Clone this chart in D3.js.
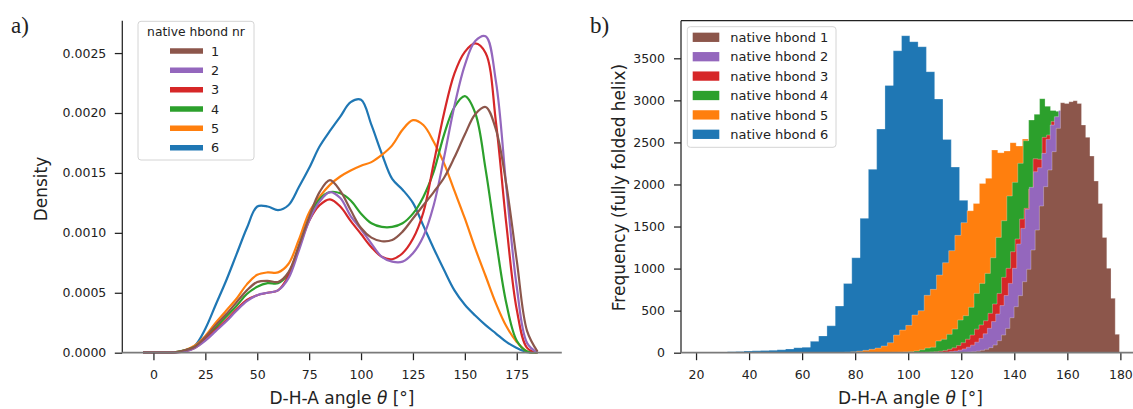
<!DOCTYPE html>
<html>
<head>
<meta charset="utf-8">
<script src="https://cdn.jsdelivr.net/npm/d3@7"></script>
<style>
body { margin: 0; background: #fff; }
text { font-family: "DejaVu Sans", sans-serif; fill: #222; }
</style>
</head>
<body>
<svg id="chart" width="1133" height="409"></svg>
<script>
// ---- data: kde curves (panel a) ----
var angleGrid = [-5, 0, 5, 10, 15, 20, 25, 30, 35, 40, 45, 50, 55, 60, 65, 70, 75, 80, 85, 90,
    95, 100, 105, 110, 115, 120, 125, 130, 135, 140, 145, 150, 155, 160, 165, 170, 175, 180, 185];

var kde1 = [0, 0, 0, 0.000003, 0.00002, 0.00005, 0.00013, 0.00023, 0.00032, 0.00042, 0.00052, 0.00059, 0.0006, 0.00059, 0.00067, 0.00089, 0.00113, 0.00134, 0.00144, 0.00135,
    0.00119, 0.00104, 0.00096, 0.00093, 0.00094, 0.00101, 0.00112, 0.00123, 0.00134, 0.00146, 0.00163, 0.00182, 0.00199, 0.00205, 0.00186, 0.0014, 0.00077, 0.00018, 0.00001];
var kde2 = [0, 0, 0, 0.000002, 0.00001, 0.00004, 0.0001, 0.00018, 0.00026, 0.00035, 0.00043, 0.00048, 0.0005, 0.00052, 0.00062, 0.00085, 0.0011, 0.00126, 0.00134, 0.00129,
    0.00114, 0.00103, 0.00091, 0.0008, 0.00076, 0.00076, 0.00083, 0.00097, 0.00123, 0.00163, 0.00206, 0.0024, 0.0026, 0.00264, 0.00226, 0.00138, 0.00055, 0.00008, 0];
var kde3 = [0, 0, 0, 0.000002, 0.00001, 0.00004, 0.00011, 0.00019, 0.00027, 0.00036, 0.00044, 0.00048, 0.0005, 0.00052, 0.00064, 0.00087, 0.0011, 0.00123, 0.00128, 0.00122,
    0.0011, 0.00099, 0.00088, 0.0008, 0.00078, 0.00083, 0.00095, 0.00117, 0.00158, 0.002, 0.00233, 0.00251, 0.00258, 0.0025, 0.00192, 0.00107, 0.00036, 0.00004, 0];
var kde4 = [0, 0, 0, 0.000003, 0.00002, 0.00005, 0.00012, 0.00021, 0.0003, 0.00039, 0.00049, 0.00055, 0.00058, 0.00058, 0.00066, 0.00088, 0.00112, 0.00128, 0.00134, 0.00133,
    0.00127, 0.00116, 0.00108, 0.00105, 0.00105, 0.00108, 0.00116, 0.0013, 0.00151, 0.00182, 0.00205, 0.00214, 0.002, 0.00153, 0.00094, 0.00041, 0.0001, 0.00001, 0];
var kde5 = [0, 0, 0, 0.000003, 0.00002, 0.00006, 0.00014, 0.00025, 0.00035, 0.00045, 0.00057, 0.00065, 0.00067, 0.00067, 0.00074, 0.00094, 0.00117, 0.0013, 0.0014, 0.00147,
    0.00152, 0.00156, 0.00159, 0.00165, 0.00173, 0.00186, 0.00194, 0.0019, 0.00176, 0.00158, 0.00135, 0.00112, 0.00087, 0.00064, 0.00041, 0.00022, 0.00009, 0.00001, 0];
var kde6 = [0, 0, 0, 0.000002, 0.000015, 0.00006, 0.0002, 0.0004, 0.0006, 0.00082, 0.00104, 0.00122, 0.00122, 0.00119, 0.00123, 0.00138, 0.00154, 0.00172, 0.00185, 0.00197,
    0.00209, 0.00211, 0.0019, 0.00166, 0.00145, 0.00136, 0.00125, 0.00106, 0.00087, 0.00069, 0.00052, 0.0004, 0.00031, 0.00023, 0.00016, 0.00009, 0.00004, 0.000005, 0];

// ---- data: histograms (panel b), 50 bins each ----
var histStart = [100.2, 101.4, 94.4, 75.38, 64.39, 22.46];
var histWidth = [1.589, 1.58, 1.7, 2.06, 2.313, 3.126];

var hist1 = [0, 0, 0, 0, 0, 0, 0, 0, 1, 1, 1, 2, 3, 5, 8, 12, 18, 28, 40, 60, 91, 143, 210, 289, 416,
    547, 678, 844, 991, 1221, 1458, 1744, 1974, 2172, 2390, 2667, 2972, 2964, 2984, 2996, 2964, 2707, 2560, 2338, 2041, 1775, 1371, 1003, 646, 218];
var hist2 = [0, 0, 0, 0, 1, 2, 3, 5, 8, 13, 20, 30, 45, 65, 90, 125, 170, 225, 290, 370, 460, 560, 680, 824, 1003,
    1292, 1478, 1704, 1966, 2152, 2200, 2370, 2536, 2707, 2806, 2880, 2900, 2850, 2700, 2500, 2250, 1900, 1550, 1200, 850, 550, 300, 130, 40, 8];
var hist3 = [0, 0, 0, 1, 1, 2, 3, 5, 8, 12, 18, 27, 40, 58, 85, 119, 160, 210, 280, 330, 380, 468, 579, 705, 896,
    1003, 1201, 1351, 1589, 1716, 1942, 2306, 2300, 2560, 2588, 2750, 2800, 2700, 2500, 2200, 1850, 1450, 1050, 700, 420, 220, 100, 35, 10, 2];
var hist4 = [0, 0, 0, 0, 1, 1, 2, 2, 3, 4, 5, 8, 12, 20, 35, 55, 65, 139, 159, 218, 281, 388, 440, 539, 705,
    824, 943, 1129, 1371, 1569, 1863, 2025, 2251, 2520, 2766, 2834, 3020, 2930, 2880, 2870, 2700, 2400, 2000, 1500, 1000, 600, 280, 100, 25, 5];
var hist5 = [0, 0, 1, 1, 2, 5, 10, 18, 28, 40, 55, 80, 119, 210, 269, 325, 448, 499, 682, 753, 923, 1070, 1213, 1395, 1546,
    1688, 1775, 2013, 2073, 2410, 2378, 2398, 2497, 2457, 2540, 2450, 2300, 2100, 1850, 1550, 1250, 950, 650, 400, 230, 110, 45, 15, 5, 1];
var hist6 = [1, 0, 2, 10, 15, 20, 22, 25, 30, 35, 45, 60, 65, 135, 200, 320, 555, 824, 1129, 1597, 2180, 2659, 3178, 3590, 3769,
    3698, 3638, 3341, 3016, 2536, 2207, 1811, 1450, 1150, 880, 660, 480, 340, 230, 150, 95, 60, 35, 20, 12, 6, 3, 2, 1, 0];

var hbondLabels = ["1", "2", "3", "4", "5", "6"];
var kdeXTicks = [0, 25, 50, 75, 100, 125, 150, 175];
var kdeYTicks = [0, 0.0005, 0.001, 0.0015, 0.002, 0.0025];
var histXTicks = [20, 40, 60, 80, 100, 120, 140, 160, 180];
var histYTicks = [0, 500, 1000, 1500, 2000, 2500, 3000, 3500];

var hbondColors = ["#8c564b", "#9467bd", "#d62728", "#2ca02c", "#ff7f0e", "#1f77b4"];

var kdeSeries = [kde1, kde2, kde3, kde4, kde5, kde6];
var histCounts = [hist1, hist2, hist3, hist4, hist5, hist6];

var svg = d3.select("#chart");

var xL = d3.scaleLinear().domain([-15, 196.7]).range([122.3, 561.8]);
var yL = d3.scaleLinear().domain([0, 0.00277]).range([352.7, 20.7]);
var xR = d3.scaleLinear().domain([14.33, 187.4]).range([681, 1140]);
var yR = d3.scaleLinear().domain([0, 3947]).range([352.7, 20.7]);

// clip so the smooth curve never dips under the axis
svg.append("defs").append("clipPath").attr("id", "clipA")
    .append("rect").attr("x", 122.3).attr("y", 0).attr("width", 440).attr("height", 353.8);

// ---- panel a: kde lines, hbond 1 drawn last ----
var kdeLine = d3.line()
    .x(function (d, i) { return xL(angleGrid[i]); })
    .y(function (d) { return yL(d); })
    .curve(d3.curveCatmullRom.alpha(0.5));

var gA = svg.append("g").attr("clip-path", "url(#clipA)");
for (var k = 5; k >= 0; k--) {
    gA.append("path")
        .attr("d", kdeLine(kdeSeries[k]))
        .attr("fill", "none")
        .attr("stroke", hbondColors[k])
        .attr("stroke-width", 2.2)
        .attr("stroke-linejoin", "round");
}

// ---- panel b: step-filled histograms ----
var histArea = d3.area()
    .x(function (d) { return xR(d[0]); })
    .y0(yR(0))
    .y1(function (d) { return yR(d[1]); });

function stepPoints(k) {
    var pts = [];
    histCounts[k].forEach(function (c, i) {
        var x0 = histStart[k] + i * histWidth[k];
        pts.push([x0, c], [x0 + histWidth[k], c]);
    });
    return pts;
}

var gB = svg.append("g");
for (var j = 5; j >= 0; j--) {
    gB.append("path")
        .attr("d", histArea(stepPoints(j)))
        .attr("fill", hbondColors[j])
        .attr("stroke", "#fff")
        .attr("stroke-opacity", 0.35)
        .attr("stroke-width", 0.8);
}

// ---- axes ----
function styleAxis(g, size) {
    g.select(".domain").remove();
    g.selectAll(".tick line").attr("stroke", "#222").attr("stroke-width", 1.25);
    g.selectAll(".tick text").attr("font-family", "DejaVu Sans").attr("font-size", size).attr("fill", "#222");
}

var axL = svg.append("g").attr("transform", "translate(122.3,0)")
    .call(d3.axisLeft(yL).tickValues(kdeYTicks).tickFormat(d3.format(".4f")).tickSize(7.5).tickPadding(8.5));
styleAxis(axL, 12.5);
var axB = svg.append("g").attr("transform", "translate(0,352.7)")
    .call(d3.axisBottom(xL).tickValues(kdeXTicks).tickSize(7.5).tickPadding(9.7));
styleAxis(axB, 12.5);

var axL2 = svg.append("g").attr("transform", "translate(681,0)")
    .call(d3.axisLeft(yR).tickValues(histYTicks).tickFormat(d3.format("d")).tickSize(7).tickPadding(9));
styleAxis(axL2, 12.5);
var axB2 = svg.append("g").attr("transform", "translate(0,352.7)")
    .call(d3.axisBottom(xR).tickValues(histXTicks).tickFormat(d3.format("d")).tickSize(7.5).tickPadding(9.7));
styleAxis(axB2, 12.5);

// spines
svg.append("line").attr("x1", 122.3).attr("x2", 122.3).attr("y1", 20.7).attr("y2", 352.7)
    .attr("stroke", "#222").attr("stroke-width", 1.25);
svg.append("line").attr("x1", 122.3).attr("x2", 561.8).attr("y1", 352.7).attr("y2", 352.7)
    .attr("stroke", "#7a7a7a").attr("stroke-width", 1.8);
svg.append("line").attr("x1", 681).attr("x2", 681).attr("y1", 20.7).attr("y2", 352.7)
    .attr("stroke", "#222").attr("stroke-width", 1.25);
svg.append("line").attr("x1", 681).attr("x2", 1140).attr("y1", 20.7).attr("y2", 20.7)
    .attr("stroke", "#222").attr("stroke-width", 1.25);
svg.append("line").attr("x1", 681).attr("x2", 1140).attr("y1", 352.7).attr("y2", 352.7)
    .attr("stroke", "#7a7a7a").attr("stroke-width", 1.8);

// axis labels
function xLabel(cx) {
    var t = svg.append("text").attr("x", cx).attr("y", 404).attr("text-anchor", "middle").attr("font-size", 17);
    t.append("tspan").text("D-H-A angle ");
    t.append("tspan").attr("font-style", "italic").text("θ");
    t.append("tspan").text(" [°]");
}
xLabel(342);
xLabel(910.5);

svg.append("text").attr("transform", "translate(47.4,189) rotate(-90)")
    .attr("text-anchor", "middle").attr("font-size", 17).text("Density");
svg.append("text").attr("transform", "translate(625,187.5) rotate(-90)")
    .attr("text-anchor", "middle").attr("font-size", 17).text("Frequency (fully folded helix)");

// panel letters
svg.append("text").attr("x", 11).attr("y", 33).attr("font-size", 23)
    .style("font-family", "'Liberation Serif', serif").text("a)");
svg.append("text").attr("x", 590).attr("y", 33).attr("font-size", 23)
    .style("font-family", "'Liberation Serif', serif").text("b)");

// ---- legend a ----
var legA = svg.append("g");
legA.append("rect").attr("x", 138).attr("y", 21.3).attr("width", 116).attr("height", 138.7).attr("rx", 3)
    .attr("fill", "#fff").attr("fill-opacity", 0.8).attr("stroke", "#d4d4d4");
legA.append("text").attr("x", 196).attr("y", 36).attr("text-anchor", "middle").attr("font-size", 12.3)
    .text("native hbond nr");
hbondLabels.forEach(function (lab, i) {
    var yy = 51 + i * 19.33;
    legA.append("line").attr("x1", 170).attr("x2", 203).attr("y1", yy).attr("y2", yy)
        .attr("stroke", hbondColors[i]).attr("stroke-width", 5.5);
    legA.append("text").attr("x", 211).attr("y", yy).attr("dy", "0.36em").attr("font-size", 12.8).text(lab);
});

// ---- legend b ----
var legB = svg.append("g");
legB.append("rect").attr("x", 687.3).attr("y", 26.7).attr("width", 148.7).attr("height", 120.6).attr("rx", 3)
    .attr("fill", "#fff").attr("fill-opacity", 0.8).attr("stroke", "#d4d4d4");
hbondLabels.forEach(function (lab, i) {
    var yy = 37.3 + i * 19.4;
    legB.append("rect").attr("x", 692.7).attr("y", yy - 4.65).attr("width", 26.6).attr("height", 9.3)
        .attr("fill", hbondColors[i]);
    legB.append("text").attr("x", 730.3).attr("y", yy).attr("dy", "0.36em").attr("font-size", 13)
        .text("native hbond " + lab);
});
</script>
</body>
</html>
